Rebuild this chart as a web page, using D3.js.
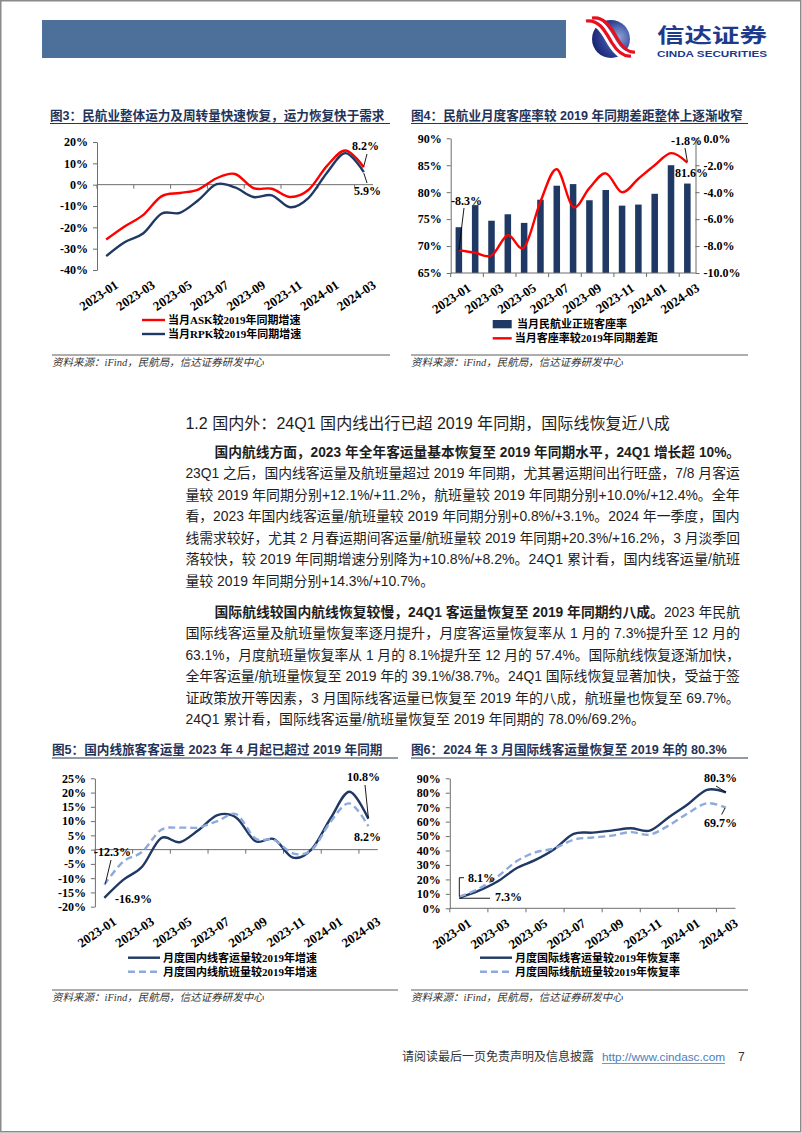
<!DOCTYPE html>
<html><head><meta charset="utf-8">
<script src="https://cdn.jsdelivr.net/npm/d3@7/dist/d3.min.js"></script>
<style>body{margin:0;background:#fff}svg{display:block}</style>
</head><body>
<svg id="page" width="802" height="1133"></svg>
<script>
// ---------------- DATA ----------------
const months = ["2023-01","2023-02","2023-03","2023-04","2023-05","2023-06","2023-07","2023-08","2023-09","2023-10","2023-11","2023-12","2024-01","2024-02","2024-03"];
// Fig 3
const askGrowth = [-25.7,-19.6,-14.3,-5.5,-3.9,-2.3,3.0,5.0,-1.6,-1.9,-5.8,-2.4,8.8,16.0,8.2];
const rpkGrowth = [-33.5,-27.0,-22.9,-13.6,-13.2,-7.3,0.2,-1.3,-5.8,-5.0,-10.6,-6.2,5.6,14.8,5.9];
const fig3Ticks = [20,10,0,-10,-20,-30,-40];
// Fig 4
const loadFactor = [73.5,77.6,74.7,75.9,74.3,78.6,81.2,81.5,78.5,80.4,77.5,77.7,79.7,85.0,81.6];
const loadGap = [-8.3,-8.5,-8.7,-7.2,-8.1,-4.7,-2.3,-5.1,-3.7,-2.6,-4.0,-3.0,-2.0,-1.1,-1.8];
const fig4LeftTicks = [90,85,80,75,70,65];
const fig4RightTicks = [0,-2,-4,-6,-8,-10];
// Fig 5
const domPax = [-16.9,-10.6,-6.0,4.0,2.6,6.9,12.1,11.2,3.0,3.7,-2.8,0.2,11.0,20.3,10.8];
const domFlights = [-12.3,-4.2,-0.8,6.9,7.7,7.8,10.0,12.4,4.0,3.4,-1.3,-0.1,9.8,16.2,8.2];
const fig5Ticks = [25,20,15,10,5,0,-5,-10,-15,-20];
// Fig 6
const intlPax = [7.3,12.0,18.5,27.7,33.5,41.1,51.5,52.4,53.8,55.4,53.8,63.1,72.0,82.0,80.3];
const intlFlights = [8.1,13.4,21.9,32.5,38.8,41.5,47.5,49.0,50.3,52.7,51.0,57.4,65.8,72.7,69.7];
const fig6Ticks = [90,80,70,60,50,40,30,20,10,0];

const titles = ["图3：民航业整体运力及周转量快速恢复，运力恢复快于需求",
  "图4：民航业月度客座率较 2019 年同期差距整体上逐渐收窄",
  "图5：国内线旅客客运量 2023 年 4 月起已超过 2019 年同期",
  "图6：2024 年 3 月国际线客运量恢复至 2019 年的 80.3%"];
const legend3 = ["当月ASK较2019年同期增速","当月RPK较2019年同期增速"];
const legend4 = ["当月民航业正班客座率","当月客座率较2019年同期差距"];
const legend5 = ["月度国内线客运量较2019年增速","月度国内线航班量较2019年增速"];
const legend6 = ["月度国际线客运量较2019年恢复率","月度国际线航班量较2019年恢复率"];
const sourceText = "资料来源：iFind，民航局，信达证券研发中心";

const heading = "1.2 国内外：24Q1 国内线出行已超 2019 年同期，国际线恢复近八成";
const para1 = [
 [["国内航线方面，2023 年全年客运量基本恢复至 2019 年同期水平，24Q1 增长超 10%。",1]],
 [["23Q1 之后，国内线客运量及航班量超过 2019 年同期，尤其暑运期间出行旺盛，7/8 月客运",0]],
 [["量较 2019 年同期分别+12.1%/+11.2%，航班量较 2019 年同期分别+10.0%/+12.4%。全年",0]],
 [["看，2023 年国内线客运量/航班量较 2019 年同期分别+0.8%/+3.1%。2024 年一季度，国内",0]],
 [["线需求较好，尤其 2 月春运期间客运量/航班量较 2019 年同期+20.3%/+16.2%，3 月淡季回",0]],
 [["落较快，较 2019 年同期增速分别降为+10.8%/+8.2%。24Q1 累计看，国内线客运量/航班",0]],
 [["量较 2019 年同期分别+14.3%/+10.7%。",0]]
];
const para2 = [
 [["国际航线较国内航线恢复较慢，24Q1 客运量恢复至 2019 年同期约八成。",1],["2023 年民航",0]],
 [["国际线客运量及航班量恢复率逐月提升，月度客运量恢复率从 1 月的 7.3%提升至 12 月的",0]],
 [["63.1%，月度航班量恢复率从 1 月的 8.1%提升至 12 月的 57.4%。国际航线恢复逐渐加快，",0]],
 [["全年客运量/航班量恢复至 2019 年的 39.1%/38.7%。24Q1 国际线恢复显著加快，受益于签",0]],
 [["证政策放开等因素，3 月国际线客运量已恢复至 2019 年的八成，航班量也恢复至 69.7%。",0]],
 [["24Q1 累计看，国际线客运量/航班量恢复至 2019 年同期的 78.0%/69.2%。",0]]
];

// ---------------- STYLE ----------------
const svg = d3.select("#page");
const SERIF = "'Liberation Serif','Times New Roman','Noto Sans CJK SC',serif";
const TFONT = "'Liberation Sans','Noto Sans CJK SC',sans-serif";
const BODY = "'Liberation Sans Narrow','Liberation Sans','Noto Sans CJK SC',sans-serif";
const NAVY = "#1f3864", RED = "#ff0000", LBLUE = "#8eaadb", AXIS = "#6d6d6d", TCOL = "#1f3358";
const curve = d3.curveCardinal.tension(0);

// page border
svg.append("rect").attr("x",0.75).attr("y",0.75).attr("width",800).attr("height",1131)
  .attr("fill","none").attr("stroke","#8a8a8a").attr("stroke-width",1.5);

// header bar + logo
svg.append("rect").attr("x",42).attr("y",20).attr("width",524).attr("height",38).attr("fill","#4c7099");
const defs = svg.append("defs");
const rg = defs.append("radialGradient").attr("id","lg").attr("cx","70%").attr("cy","45%").attr("r","75%");
rg.append("stop").attr("offset","0%").attr("stop-color","#8ea6d6");
rg.append("stop").attr("offset","55%").attr("stop-color","#33479a");
rg.append("stop").attr("offset","100%").attr("stop-color","#141f6b");
svg.append("circle").attr("cx",611).attr("cy",39).attr("r",19).attr("fill","url(#lg)");
const lp = svg.append("g");
lp.append("path").attr("d","M586,21 C600,19 606,33 612,43 C617,51 623,57 631,56").attr("fill","none").attr("stroke","#fff").attr("stroke-width",9);
lp.append("path").attr("d","M586,21 C600,19 606,33 612,43 C617,51 623,57 631,56").attr("fill","none").attr("stroke","#e8101e").attr("stroke-width",3.2);
lp.append("path").attr("d","M592,18 C606,16 612,30 618,40 C623,48 628,53 635,52").attr("fill","none").attr("stroke","#e8101e").attr("stroke-width",3.2);
svg.append("text").attr("x",657).attr("y",43).attr("font-family","'Noto Sans CJK SC'").attr("font-weight","bold")
  .attr("font-size",20).attr("fill","#1d3a8c").attr("textLength",110).attr("lengthAdjust","spacingAndGlyphs").text("信达证券");
svg.append("text").attr("x",657).attr("y",57).attr("font-family","'Liberation Sans'").attr("font-weight","bold")
  .attr("font-size",8.5).attr("fill","#1d3a8c").attr("textLength",110).attr("lengthAdjust","spacingAndGlyphs").text("CINDA SECURITIES");

// ---------------- helpers ----------------
function title(x, y, x2, lineY, txt){
  svg.append("text").attr("x",x).attr("y",y).attr("font-family",TFONT).attr("font-weight","bold")
    .attr("font-size",12.6).attr("fill",TCOL).text(txt);
  svg.append("line").attr("x1",x).attr("x2",x2).attr("y1",lineY).attr("y2",lineY).attr("stroke","#2a3550").attr("stroke-width",1);
}
function source(x, x2, lineY){
  svg.append("line").attr("x1",x).attr("x2",x2).attr("y1",lineY).attr("y2",lineY).attr("stroke","#333").attr("stroke-width",0.8);
  svg.append("text").attr("x",x).attr("y",lineY+11).attr("font-family",SERIF).attr("font-style","italic")
    .attr("font-size",10.5).attr("fill","#333").text(sourceText);
}
function legendLine(x1, x2, y, color, dash, txt){
  svg.append("line").attr("x1",x1).attr("x2",x2).attr("y1",y).attr("y2",y).attr("stroke",color)
    .attr("stroke-width",2.4).attr("stroke-dasharray",dash||null);
  svg.append("text").attr("x",x2+3).attr("y",y+4).attr("font-family",SERIF).attr("font-weight","bold")
    .attr("font-size",11).attr("fill","#000").text(txt);
}
function yAxisLeft(y, x0, ticks, fmt){
  const g = svg.append("g").attr("transform",`translate(${x0},0)`)
    .call(d3.axisLeft(y).tickValues(ticks).tickFormat(fmt).tickSize(4).tickPadding(5).tickSizeOuter(0));
  g.attr("font-family",SERIF).attr("font-size",12).attr("font-weight","bold");
  g.selectAll("path,line").attr("stroke",AXIS);
  g.selectAll("text").attr("fill","#000");
  return g;
}
function xAxis(x, yLine, labelBase){
  const bw = x.bandwidth();
  const [r0, r1] = x.range();
  svg.append("line").attr("x1",r0).attr("x2",r1).attr("y1",yLine).attr("y2",yLine).attr("stroke",AXIS);
  months.forEach((m,i)=>{
    if(i%2) return;
    svg.append("line").attr("x1",x(m)).attr("x2",x(m)).attr("y1",yLine).attr("y2",yLine+4).attr("stroke",AXIS);
    svg.append("text").attr("transform",`translate(${x(m)+bw/2+13},${labelBase+17}) rotate(-34)`)
      .attr("text-anchor","end").attr("font-family",SERIF).attr("font-weight","bold").attr("font-size",13)
      .attr("fill","#000").text(m);
  });
}
function series(x, y, vals, color, dash){
  const bw = x.bandwidth();
  const line = d3.line().x((d,i)=>x(months[i])+bw/2).y(d=>y(d)).curve(curve);
  svg.append("path").attr("d",line(vals)).attr("fill","none").attr("stroke",color).attr("stroke-width",2.4)
    .attr("stroke-dasharray",dash||null).attr("stroke-linecap","butt");
}
function note(xp, yp, txt){
  svg.append("text").attr("x",xp).attr("y",yp).attr("font-family",SERIF).attr("font-weight","bold")
    .attr("font-size",12).attr("fill","#000").text(txt);
}
function leader(pts){
  svg.append("path").attr("d",d3.line()(pts)).attr("fill","none").attr("stroke","#000").attr("stroke-width",0.9);
}

// ---------------- Fig 3 ----------------
title(50, 119.5, 390, 123.5, titles[0]);
{
  const x = d3.scaleBand().domain(months).range([97,373]);
  const y = d3.scaleLinear().domain([-40,20]).range([270,142]);
  yAxisLeft(y, 97, fig3Ticks, d=>d+"%");
  xAxis(x, y(0), y(-40));
  series(x, y, askGrowth, RED);
  series(x, y, rpkGrowth, NAVY);
  const cx = x(months[14])+x.bandwidth()/2;
  note(352, 149.5, askGrowth[14].toFixed(1)+"%");
  leader([[cx, y(askGrowth[14])-1],[367,154]]);
  note(354, 195, rpkGrowth[14].toFixed(1)+"%");
  leader([[cx, y(rpkGrowth[14])+1],[367,183]]);
}
legendLine(142,165,320,RED,null,legend3[0]);
legendLine(142,165,334,NAVY,null,legend3[1]);
source(52, 390, 355);

// ---------------- Fig 4 ----------------
title(411, 119.5, 748, 123.5, titles[1]);
{
  const x = d3.scaleBand().domain(months).range([450.7,695.5]);
  const yL = d3.scaleLinear().domain([65,90]).range([273,138.3]);
  const yR = d3.scaleLinear().domain([-10,0]).range([273,138.3]);
  const bw = x.bandwidth();
  svg.append("g").selectAll("rect").data(loadFactor).join("rect")
    .attr("x",(d,i)=>x(months[i])+bw*0.3).attr("width",bw*0.4)
    .attr("y",d=>yL(d)).attr("height",d=>yL(65)-yL(d)).attr("fill",NAVY);
  yAxisLeft(yL, 450.7, fig4LeftTicks, d=>d+"%");
  const gr = svg.append("g").attr("transform","translate(695.5,0)")
    .call(d3.axisRight(yR).tickValues(fig4RightTicks).tickFormat(d=>d.toFixed(1)+"%").tickSize(4).tickPadding(4).tickSizeOuter(0));
  gr.attr("font-family",SERIF).attr("font-size",12).attr("font-weight","bold");
  gr.selectAll("path,line").attr("stroke",AXIS);
  gr.selectAll("text").attr("fill","#000");
  xAxis(x, 273, 273);
  series(x, yR, loadGap, RED);
  const c0 = x(months[0])+bw/2, c14 = x(months[14])+bw/2;
  note(451, 205, loadGap[0].toFixed(1)+"%");
  leader([[c0, yR(loadGap[0])],[464,208]]);
  note(671, 145, loadGap[14].toFixed(1)+"%");
  leader([[685,148],[c14, yR(loadGap[14])-1]]);
  note(675, 176.5, loadFactor[14].toFixed(1)+"%");
}
svg.append("rect").attr("x",492.7).attr("y",320).attr("width",19).attr("height",8.3).attr("fill",NAVY);
svg.append("text").attr("x",517).attr("y",328.3).attr("font-family",SERIF).attr("font-weight","bold").attr("font-size",11).text(legend4[0]);
legendLine(492.7,511.7,338.3,RED,null,legend4[1]);
source(411, 748, 355);

// ---------------- text block ----------------
function bodyLine(segs, x, yb, size, targetW, sOverride){
  const t = svg.append("text").attr("x",x).attr("y",yb).attr("font-family",BODY).attr("font-size",size).attr("fill","#1e1e1e");
  segs.forEach(([s,b])=>t.append("tspan").attr("font-weight",b?"bold":"normal").text(s));
  const w = t.node().getComputedTextLength();
  const s = targetW ? targetW/w : sOverride;
  t.attr("transform",`translate(${x},0) scale(${s},1) translate(${-x},0)`);
  return s;
}
bodyLine([[heading,0]], 185.4, 429, 16, 485);
function para(lines, yStart){
  let acc = [];
  lines.forEach((segs,i)=>{
    const yb = yStart + i*21.5 + 5;
    const xs = i===0 ? 214.5 : 185.4;
    if(i < lines.length-1){ acc.push(bodyLine(segs, xs, yb, 14, 740.5-xs)); }
    else bodyLine(segs, xs, yb, 14, null, d3.mean(acc.slice(1)));
  });
}
para(para1, 451.7);
para(para2, 611.7);

// ---------------- Fig 5 ----------------
title(52, 753.5, 398, 758, titles[2]);
{
  const x = d3.scaleBand().domain(months).range([94.9,377.8]);
  const y = d3.scaleLinear().domain([-20,25]).range([906.7,778.3]);
  yAxisLeft(y, 94.9, fig5Ticks, d=>d+"%");
  xAxis(x, y(0), y(-20));
  series(x, y, domPax, NAVY);
  series(x, y, domFlights, LBLUE, "7,4");
  const bw = x.bandwidth();
  const c0 = x(months[0])+bw/2, c14 = x(months[14])+bw/2;
  note(347, 781, domPax[14].toFixed(1)+"%");
  leader([[365,785],[c14, y(domPax[14])-1]]);
  note(354, 841, domFlights[14].toFixed(1)+"%");
  note(94, 856, domFlights[0].toFixed(1)+"%");
  leader([[c0+1, y(domFlights[0])-1],[111,860]]);
  note(115, 903, domPax[0].toFixed(1)+"%");
}
legendLine(128,160,957.7,NAVY,null,legend5[0]);
legendLine(128,160,971.7,LBLUE,"7,4",legend5[1]);
source(52, 398, 990);

// ---------------- Fig 6 ----------------
title(411, 753.5, 748, 758, titles[3]);
{
  const x = d3.scaleBand().domain(months).range([449.8,735.5]);
  const y = d3.scaleLinear().domain([0,90]).range([908.3,778.3]);
  yAxisLeft(y, 449.8, fig6Ticks, d=>d+"%");
  xAxis(x, 908.3, 908.3);
  series(x, y, intlPax, NAVY);
  series(x, y, intlFlights, LBLUE, "7,4");
  const bw = x.bandwidth();
  const c0 = x(months[0])+bw/2, c14 = x(months[14])+bw/2;
  note(704, 782, intlPax[14].toFixed(1)+"%");
  leader([[716,786],[c14, y(intlPax[14])]]);
  note(704, 827, intlFlights[14].toFixed(1)+"%");
  leader([[725,808],[721.7,814.5]]);
  note(468, 882, intlFlights[0].toFixed(1)+"%");
  leader([[464,877.7],[c0,877.7],[c0, y(intlFlights[0])]]);
  note(495, 901, intlPax[0].toFixed(1)+"%");
  leader([[c0, y(intlPax[0])+0.5],[490, y(intlPax[0])+0.5]]);
}
legendLine(480,512,957.7,NAVY,null,legend6[0]);
legendLine(480,512,971.7,LBLUE,"7,4",legend6[1]);
source(411, 748, 990);

// ---------------- footer ----------------
svg.append("text").attr("x",402).attr("y",1061).attr("font-family","'Noto Sans CJK SC'").attr("font-size",12)
  .attr("fill","#333").text("请阅读最后一页免责声明及信息披露");
svg.append("text").attr("x",602).attr("y",1061).attr("font-family","'Liberation Sans'").attr("font-size",11.7)
  .attr("fill","#4a7ebb").attr("textLength",123).attr("lengthAdjust","spacingAndGlyphs").text("http://www.cindasc.com");
svg.append("line").attr("x1",602).attr("x2",725).attr("y1",1063.5).attr("y2",1063.5).attr("stroke","#4a7ebb").attr("stroke-width",0.8);
svg.append("text").attr("x",738).attr("y",1061).attr("font-family","'Liberation Sans'").attr("font-size",12).attr("fill","#333").text("7");
</script>
</body></html>
